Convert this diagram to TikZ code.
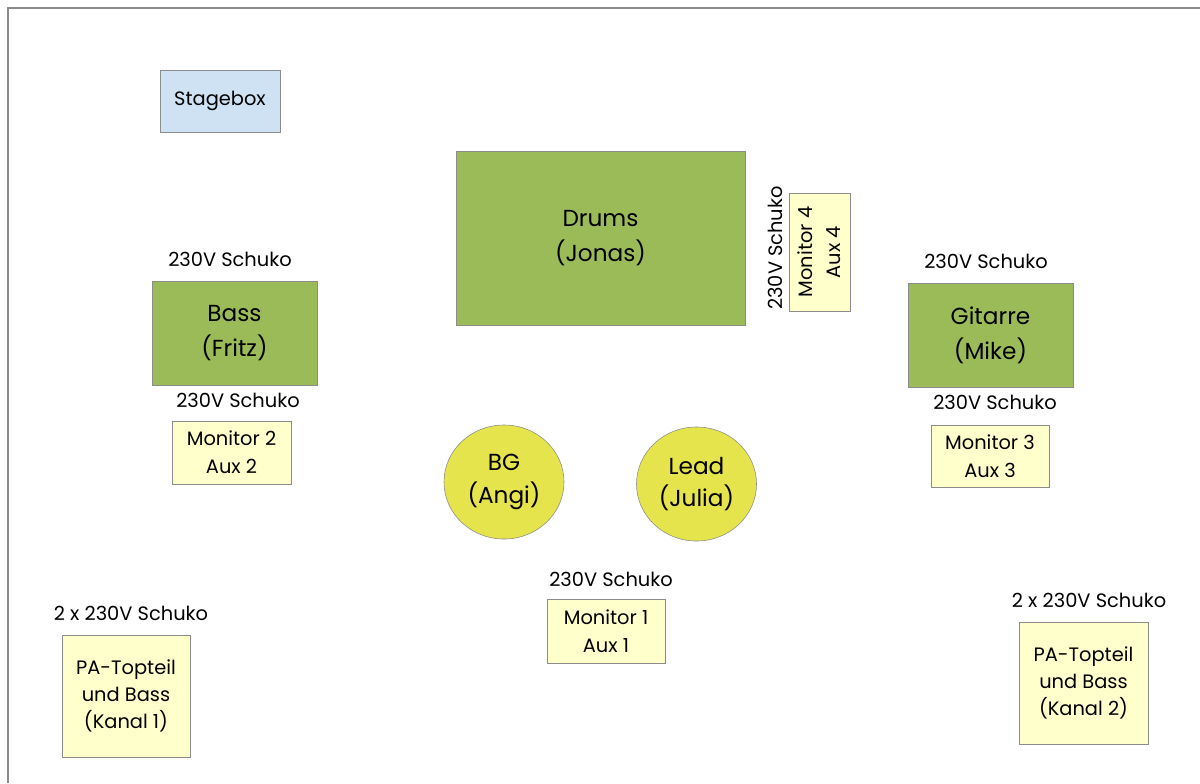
\documentclass[tikz,border=0pt]{standalone}
\usepackage{fontspec}
\setmainfont{Poppins}
\usepackage{tikz}
\usetikzlibrary{positioning,shapes.geometric}
\definecolor{ampgreen}{HTML}{9BBB59}
\definecolor{monyellow}{HTML}{FFFFCC}
\definecolor{voxyellow}{HTML}{E6E44C}
\definecolor{boxblue}{HTML}{CFE2F3}
\definecolor{edgegray}{HTML}{8C8C8C}

\begin{document}
\begin{tikzpicture}[x=0.025cm, y=-0.025cm, font=\fontsize{13.8}{20}\selectfont,
   amp/.style={draw=edgegray, fill=ampgreen, align=center, inner sep=0pt,
               font=\fontsize{16.5}{25}\selectfont},
   mon/.style={draw=edgegray, fill=monyellow, align=center, inner sep=0pt},
   vox/.style={draw=edgegray, fill=voxyellow, ellipse, align=center, inner sep=0pt,
               minimum width=3cm, minimum height=2.85cm, font=\fontsize{16.5}{23}\selectfont},
   power/.style={inner sep=0pt}]
  \useasboundingbox (0,0) rectangle (1200,783);
  % stage outline
  \draw[edgegray, line width=0.8pt] (8,783) -- (8,8) -- (1200,8);

  \node[draw=edgegray, fill=boxblue, minimum width=3cm, minimum height=1.55cm] (stagebox) at (220,101) {Stagebox};

  % backline
  \node[amp, minimum width=7.225cm, minimum height=4.35cm] (drums) at (600.5,238) {Drums\\(Jonas)};
  \node[amp, minimum width=4.125cm, minimum height=2.6cm] (bass) at (234.5,333) {Bass\\(Fritz)};
  \node[amp, minimum width=4.125cm, minimum height=2.6cm] (gitarre) at (990.5,335) {Gitarre\\(Mike)};

  % vocals
  \node[vox] (bg) at (504,482) {BG\\(Angi)};
  \node[vox] (lead) at (696.5,484) {Lead\\(Julia)};

  % monitors
  \node[mon, minimum width=2.95cm, minimum height=1.6cm] (mon1) at (606,631) {Monitor 1\\Aux 1};
  \node[mon, minimum width=2.975cm, minimum height=1.575cm] (mon2) at (231.5,452.5) {Monitor 2\\Aux 2};
  \node[mon, minimum width=2.95cm, minimum height=1.55cm] (mon3) at (990,456) {Monitor 3\\Aux 3};
  \node[mon, rotate=90, minimum width=2.95cm, minimum height=1.525cm] (mon4) at (819.5,252) {Monitor 4\\Aux 4};

  % PA
  \node[mon, minimum width=3.2cm, minimum height=3.05cm, font=\fontsize{13.8}{19}\selectfont] (paleft) at (126,696) {PA-Topteil\\und Bass\\(Kanal 1)};
  \node[mon, minimum width=3.225cm, minimum height=3.05cm, font=\fontsize{13.8}{19}\selectfont] (paright) at (1083.5,683) {PA-Topteil\\und Bass\\(Kanal 2)};

  % power
  \node[power] (pbass) at (230,259) {230V Schuko};
  \node[power] (pmon2) at (238,400) {230V Schuko};
  \node[power] (pgit) at (986,261) {230V Schuko};
  \node[power] (pmon3) at (995,402) {230V Schuko};
  \node[power] (pmon1) at (611,579) {230V Schuko};
  \node[power, rotate=90] (pmon4) at (775,248) {230V Schuko};
  \node[power] (ppaleft) at (131,613) {2 x 230V Schuko};
  \node[power] (pparight) at (1089,600) {2 x 230V Schuko};
\end{tikzpicture}
\end{document}
